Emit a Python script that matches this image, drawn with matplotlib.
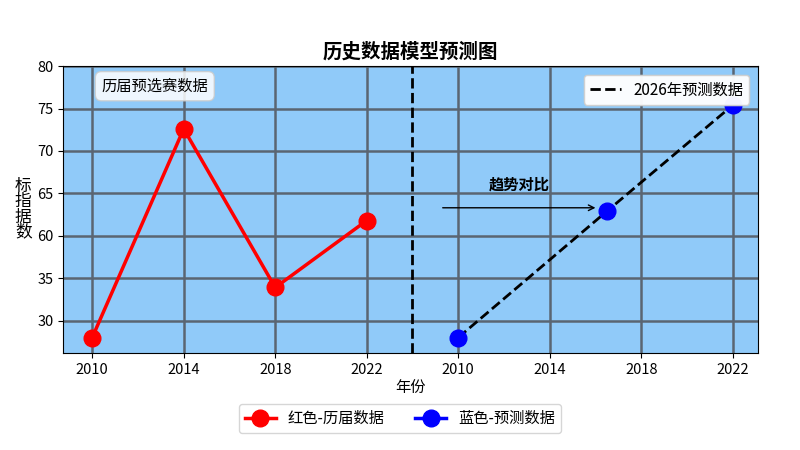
import matplotlib
matplotlib.use("Agg")
import matplotlib.pyplot as plt
from matplotlib.lines import Line2D

plt.rcParams['font.family'] = ['Noto Sans CJK SC', 'DejaVu Sans']

years = [2010, 2014, 2018, 2022]
xtick_labels = ['2010', '2014', '2018', '2022', '2010', '2014', '2018', '2022']
red_values = [28.0, 72.6, 33.9, 61.8]
blue_years = [2010, 2016.5, 2022]
blue_values = [28.0, 62.9, 75.4]
ytick_labels = ['30', '35', '60', '65', '70', '75', '80']
ytick_pos = [30, 35, 40, 45, 50, 55, 60]

def ymap(v):
    return v - 20 if v >= 50 else v

def xmap(y, half):
    return (y - 2010) / 4 + (4 if half else 0)

fig = plt.figure(figsize=(8, 4.5), dpi=100)
ax = fig.add_axes([0.079, 0.216, 0.869, 0.637])
ax.set_facecolor('#90CAF9')
ax.plot([xmap(y, 0) for y in years], [ymap(v) for v in red_values], color='red', lw=2.5,
        marker='o', ms=12)
ax.plot([xmap(y, 1) for y in blue_years], [ymap(v) for v in blue_values], color='black', lw=2,
        ls='--', zorder=2)
ax.plot([xmap(y, 1) for y in blue_years], [ymap(v) for v in blue_values], color='blue', lw=0,
        marker='o', ms=12, zorder=3)
ax.axvline(3.5, color='black', ls='--', lw=2)
ax.set_xticks(range(8))
ax.set_xticklabels(xtick_labels, fontsize=10.5)
ax.set_yticks(ytick_pos)
ax.set_yticklabels(ytick_labels, fontsize=10.5)
ax.set_xlim(-0.317, 7.28)
ax.set_ylim(26.2, 60)
ax.grid(True, color='#5a6572', lw=1.8)
ax.set_axisbelow(True)
ax.set_title('历史数据模型预测图', fontsize=14, fontweight='bold')
ax.set_xlabel('年份', fontsize=11, labelpad=2)
ax.set_ylabel('标\n指\n据\n数', fontsize=12, rotation=0, va='center', labelpad=10,
              linespacing=0.85)
ax.text(0.055, 0.93, '历届预选赛数据', transform=ax.transAxes, fontsize=11, va='center',
        bbox=dict(boxstyle='round,pad=0.4', fc='white', ec='#cccccc', alpha=0.85))
leg1 = ax.legend([Line2D([], [], color='black', ls='--', lw=2)], ['2026年预测数据'],
                 loc='upper right', fontsize=11, borderaxespad=0.6)
ax.add_artist(leg1)
ax.annotate('', xy=(5.53, 43.3), xytext=(3.80, 43.3),
            arrowprops=dict(arrowstyle='->', color='black', lw=1))
ax.text(4.67, 46.0, '趋势对比', fontsize=11, fontweight='bold', ha='center', va='center')
handles = [Line2D([], [], color='red', lw=2.5, marker='o', ms=12),
           Line2D([], [], color='blue', lw=2.5, marker='o', ms=12)]
fig.legend(handles, ['红色-历届数据', '蓝色-预测数据'], loc='lower center', ncol=2,
           bbox_to_anchor=(0.5, 0.02), fontsize=11)
fig.savefig('out.png')
